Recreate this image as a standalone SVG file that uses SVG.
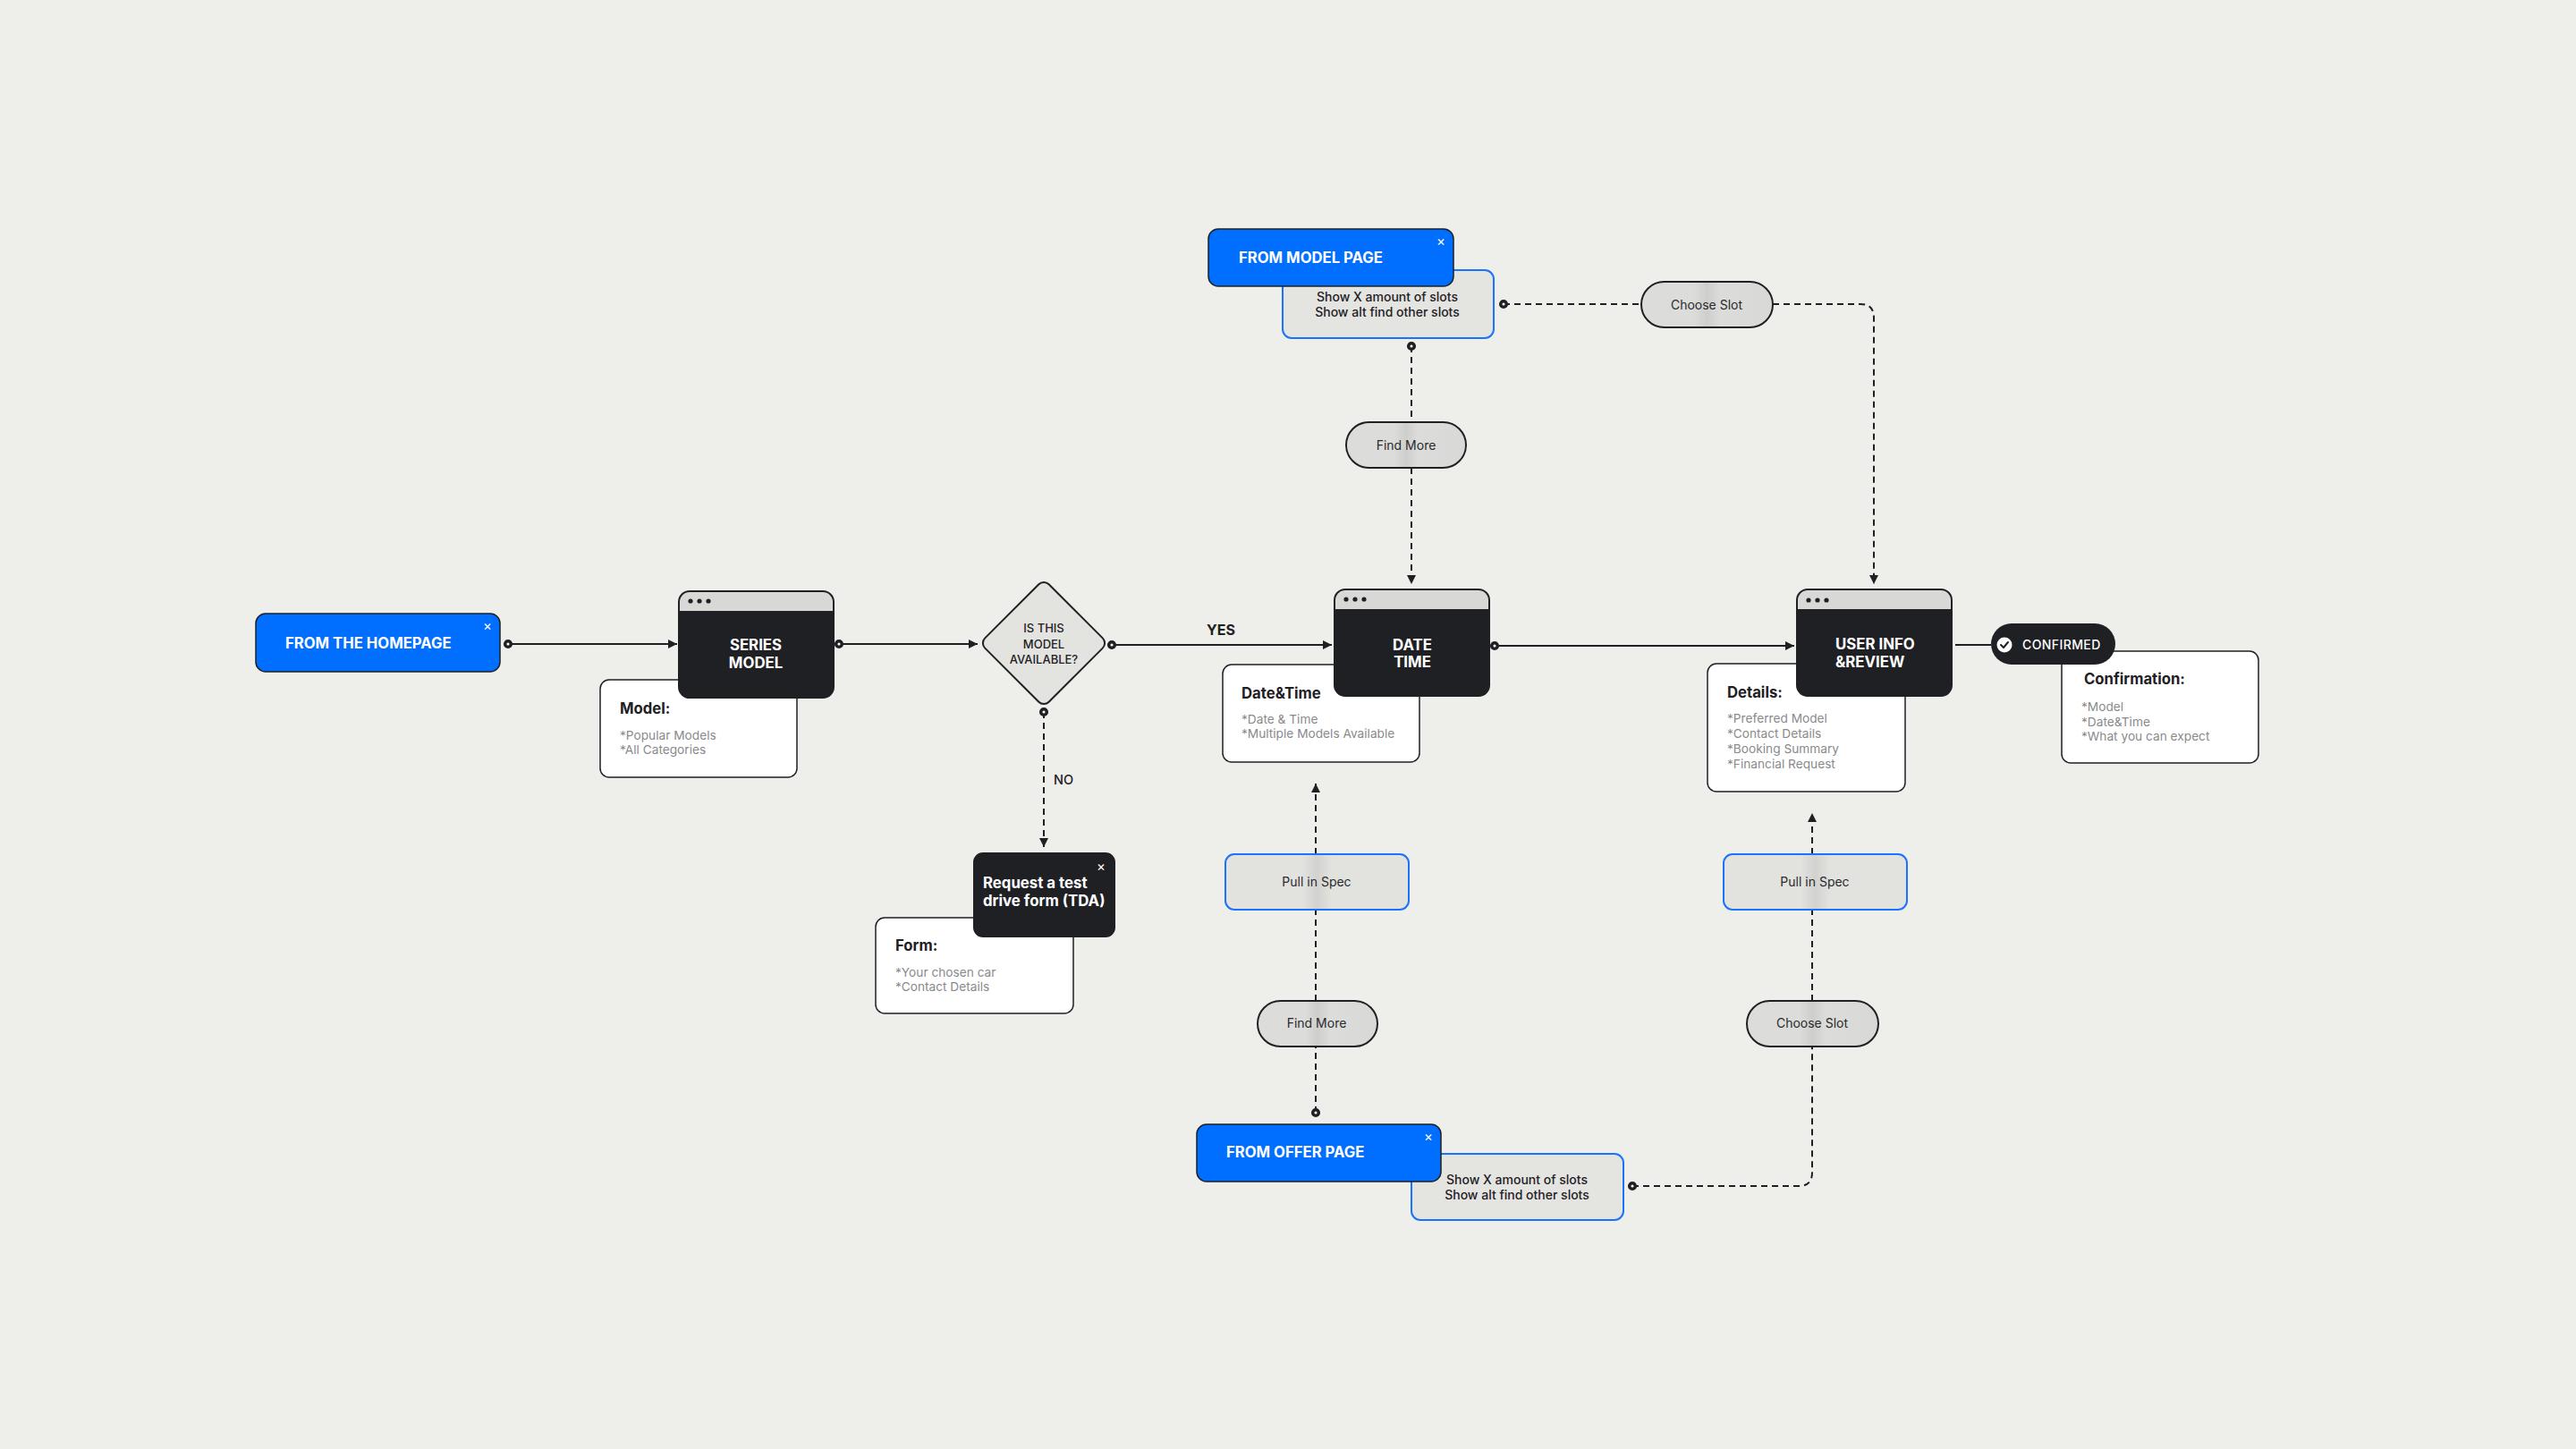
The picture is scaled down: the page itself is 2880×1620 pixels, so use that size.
<svg xmlns="http://www.w3.org/2000/svg" width="2880" height="1620" viewBox="0 0 2880 1620">
<defs>
<style>
text{font-family:Inter,"Liberation Sans",Arial,sans-serif;}
.bg{fill:#eeeeea;}
.blue{fill:#006eff;stroke:#1f2024;stroke-width:1.5;}
.wt{fill:#ffffff;font-weight:700;font-size:16.7px;}
.xx{fill:#ffffff;font-size:15px;text-anchor:middle;}
.dark{fill:#1f2024;stroke:#1f2024;stroke-width:2;}
.hdr{fill:#d8d8d6;}
.dot{fill:#1f2024;}
.nt{fill:#ffffff;font-weight:700;font-size:16.8px;}
.card{fill:#ffffff;stroke:#1f2024;stroke-width:1.5;}
.ch{fill:#1f2024;font-weight:700;font-size:16.7px;}
.ci{fill:#8a8a8c;font-size:13.7px;}
.slots{fill:#e4e4e1;stroke:#1a73ff;stroke-width:2;}
.st{fill:#1f2024;font-size:14px;font-weight:500;text-anchor:middle;}
.pill{fill:url(#sheen);stroke:#1f2024;stroke-width:2;}
.spec{fill:url(#sheen2);stroke:#1a73ff;stroke-width:2;}
.pt{fill:#2a2a2c;font-size:14px;text-anchor:middle;}
.ln{fill:none;stroke:#1f2024;stroke-width:2;}
.dash{stroke-dasharray:7 5;}
.lbl{fill:#1f2024;font-weight:700;font-size:16px;}
</style>
<linearGradient id="sheen" x1="0" y1="0" x2="1" y2="0">
<stop offset="0" stop-color="#dcdcda"/>
<stop offset="0.4" stop-color="#dcdcda"/>
<stop offset="0.5" stop-color="#cececd"/>
<stop offset="0.6" stop-color="#dcdcda"/>
<stop offset="1" stop-color="#d8d8d6"/>
</linearGradient>
<linearGradient id="sheen2" x1="0" y1="0" x2="1" y2="0">
<stop offset="0" stop-color="#e2e2df"/>
<stop offset="0.42" stop-color="#e2e2df"/>
<stop offset="0.5" stop-color="#d2d2d0"/>
<stop offset="0.58" stop-color="#e2e2df"/>
<stop offset="1" stop-color="#e2e2df"/>
</linearGradient>
<marker id="arr" markerUnits="userSpaceOnUse" markerWidth="12" markerHeight="12" refX="10" refY="5" orient="auto" viewBox="0 0 12 10">
<path d="M0,0 L10,5 L0,10 z" fill="#1f2024" stroke="none"/>
</marker>
<marker id="dt" markerUnits="userSpaceOnUse" markerWidth="14" markerHeight="14" refX="7" refY="7" orient="auto" viewBox="0 0 14 14">
<circle cx="7" cy="7" r="3.3" fill="#ffffff" stroke="#1f2024" stroke-width="3.5" stroke-dasharray="none"/>
</marker>
</defs>
<rect class="bg" x="0" y="0" width="2880" height="1620"/>

<g id="connectors">
<path class="ln" d="M568,720 H757" marker-start="url(#dt)" marker-end="url(#arr)"/>
<path class="ln" d="M938,720 H1093" marker-start="url(#dt)" marker-end="url(#arr)"/>
<path class="ln" d="M1243,721 H1489" marker-start="url(#dt)" marker-end="url(#arr)"/>
<path class="ln dash" d="M1167,796 V947" marker-start="url(#dt)" marker-end="url(#arr)"/>
<path class="ln" d="M1671,722 H2006" marker-start="url(#dt)" marker-end="url(#arr)"/>
<path class="ln" d="M2186,721 H2226"/>
<path class="ln dash" d="M1681,340 H1835" marker-start="url(#dt)"/>
<path class="ln dash" d="M1982,340 H2080 Q2095,340 2095,355 V653" marker-end="url(#arr)"/>
<path class="ln dash" d="M1578,387 V472" marker-start="url(#dt)"/>
<path class="ln dash" d="M1578,523 V653" marker-end="url(#arr)"/>
<path class="ln dash" d="M1471,1244 V1170" marker-start="url(#dt)"/>
<path class="ln dash" d="M1471,1119 V1017"/>
<path class="ln dash" d="M1471,955 V876" marker-end="url(#arr)"/>
<path class="ln dash" d="M1825,1326 H2011 Q2026,1326 2026,1311 V1170" marker-start="url(#dt)"/>
<path class="ln dash" d="M2026,1119 V1017"/>
<path class="ln dash" d="M2026,955 V909" marker-end="url(#arr)"/>
</g>

<g id="from-homepage">
<rect class="blue" x="286" y="686" width="273" height="65" rx="11"/>
<text class="wt" x="319" y="725">FROM THE HOMEPAGE</text>
<text class="xx" x="545" y="705">×</text>
</g>

<g id="model-card">
<rect class="card" x="671" y="760" width="220" height="109" rx="10"/>
<text class="ch" x="693" y="798">Model:</text>
<text class="ci" x="693" y="827">*Popular Models</text>
<text class="ci" x="693" y="843">*All Categories</text>
</g>

<g id="series-model">
<rect class="dark" x="759" y="661" width="173" height="119" rx="12"/>
<path class="hdr" d="M771,662 H920 A11,11 0 0 1 931,673 V683 H760 V673 A11,11 0 0 1 771,662 z"/>
<circle class="dot" cx="772" cy="672" r="2.6"/>
<circle class="dot" cx="782" cy="672" r="2.6"/>
<circle class="dot" cx="792" cy="672" r="2.6"/>
<text class="nt" x="845" y="727" text-anchor="middle">SERIES</text>
<text class="nt" x="845" y="747" text-anchor="middle">MODEL</text>
</g>

<g id="decision">
<rect x="1116.5" y="668.5" width="101" height="101" rx="8" transform="rotate(45 1167 719)" fill="#e3e3e0" stroke="#1f2024" stroke-width="2"/>
<text x="1167" y="707" fill="#1f2024" font-size="13" font-weight="500" text-anchor="middle">IS THIS</text>
<text x="1167" y="725" fill="#1f2024" font-size="13" font-weight="500" text-anchor="middle">MODEL</text>
<text x="1167" y="742" fill="#1f2024" font-size="13" font-weight="500" text-anchor="middle">AVAILABLE?</text>
</g>
<text class="lbl" x="1349" y="710">YES</text>
<text x="1178" y="877" fill="#1f2024" font-size="14.5" font-weight="500">NO</text>

<g id="form-card">
<rect class="card" x="979" y="1026" width="221" height="107" rx="10"/>
<text class="ch" x="1001" y="1063">Form:</text>
<text class="ci" x="1001" y="1092">*Your chosen car</text>
<text class="ci" x="1001" y="1108">*Contact Details</text>
</g>

<g id="tda">
<rect class="dark" x="1089" y="954" width="157" height="93" rx="10"/>
<text class="xx" x="1231" y="974">×</text>
<text class="nt" x="1099" y="993">Request a test</text>
<text class="nt" x="1099" y="1013">drive form (TDA)</text>
</g>

<g id="datetime-card">
<rect class="card" x="1367" y="743" width="220" height="109" rx="10"/>
<text class="ch" x="1388" y="781">Date&amp;Time</text>
<text class="ci" x="1388" y="809">*Date &amp; Time</text>
<text class="ci" x="1388" y="825">*Multiple Models Available</text>
</g>

<g id="date-time">
<rect class="dark" x="1492" y="659" width="173" height="119" rx="12"/>
<path class="hdr" d="M1504,660 H1653 A11,11 0 0 1 1664,671 V681 H1493 V671 A11,11 0 0 1 1504,660 z"/>
<circle class="dot" cx="1505" cy="670" r="2.6"/>
<circle class="dot" cx="1515" cy="670" r="2.6"/>
<circle class="dot" cx="1525" cy="670" r="2.6"/>
<text class="nt" x="1579" y="727" text-anchor="middle">DATE</text>
<text class="nt" x="1579" y="746" text-anchor="middle">TIME</text>
</g>

<g id="details-card">
<rect class="card" x="1909" y="742" width="221" height="143" rx="10"/>
<text class="ch" x="1931" y="780">Details:</text>
<text class="ci" x="1931" y="808">*Preferred Model</text>
<text class="ci" x="1931" y="825">*Contact Details</text>
<text class="ci" x="1931" y="842">*Booking Summary</text>
<text class="ci" x="1931" y="859">*Financial Request</text>
</g>

<g id="user-info">
<rect class="dark" x="2009" y="659" width="173" height="119" rx="12"/>
<path class="hdr" d="M2021,660 H2170 A11,11 0 0 1 2181,671 V681 H2010 V671 A11,11 0 0 1 2021,660 z"/>
<circle class="dot" cx="2022" cy="671" r="2.6"/>
<circle class="dot" cx="2032" cy="671" r="2.6"/>
<circle class="dot" cx="2042" cy="671" r="2.6"/>
<text class="nt" x="2052" y="726">USER INFO</text>
<text class="nt" x="2052" y="746">&amp;REVIEW</text>
</g>

<g id="confirmation-card">
<rect class="card" x="2305" y="728" width="220" height="125" rx="10"/>
<text class="ch" x="2330" y="765">Confirmation:</text>
<text class="ci" x="2327" y="795">*Model</text>
<text class="ci" x="2327" y="812">*Date&amp;Time</text>
<text class="ci" x="2327" y="828">*What you can expect</text>
</g>

<g id="confirmed">
<rect x="2226" y="697" width="139" height="46" rx="23" fill="#1f2024"/>
<circle cx="2241" cy="721" r="8.5" fill="#ffffff"/>
<path d="M2237,721 L2240,724 L2245,718" fill="none" stroke="#1f2024" stroke-width="2" stroke-linecap="round" stroke-linejoin="round"/>
<text x="2261" y="726" fill="#ffffff" font-size="14" font-weight="500" letter-spacing="0.4">CONFIRMED</text>
</g>

<g id="model-page-slots">
<rect class="slots" x="1434" y="302" width="236" height="76" rx="10"/>
<text class="st" x="1551" y="337">Show X amount of slots</text>
<text class="st" x="1551" y="354">Show alt find other slots</text>
</g>

<g id="from-model-page">
<rect class="blue" x="1351" y="256" width="274" height="64" rx="11"/>
<text class="wt" x="1385" y="294">FROM MODEL PAGE</text>
<text class="xx" x="1611" y="275">×</text>
</g>

<g id="choose-slot-top">
<rect class="pill" x="1835" y="315" width="147" height="51" rx="25.5"/>
<text class="pt" x="1908" y="346">Choose Slot</text>
</g>

<g id="find-more-top">
<rect class="pill" x="1505" y="472" width="134" height="51" rx="25.5"/>
<text class="pt" x="1572" y="503">Find More</text>
</g>

<g id="pull-spec-left">
<rect class="spec" x="1370" y="955" width="205" height="62" rx="10"/>
<text class="pt" x="1472" y="991">Pull in Spec</text>
</g>

<g id="find-more-bottom">
<rect class="pill" x="1406" y="1119" width="134" height="51" rx="25.5"/>
<text class="pt" x="1472" y="1149">Find More</text>
</g>

<g id="pull-spec-right">
<rect class="spec" x="1927" y="955" width="205" height="62" rx="10"/>
<text class="pt" x="2029" y="991">Pull in Spec</text>
</g>

<g id="choose-slot-bottom">
<rect class="pill" x="1953" y="1119" width="147" height="51" rx="25.5"/>
<text class="pt" x="2026" y="1149">Choose Slot</text>
</g>

<g id="offer-page-slots">
<rect class="slots" x="1578" y="1290" width="237" height="74" rx="10"/>
<text class="st" x="1696" y="1324">Show X amount of slots</text>
<text class="st" x="1696" y="1341">Show alt find other slots</text>
</g>

<g id="from-offer-page">
<rect class="blue" x="1338" y="1257" width="273" height="64" rx="11"/>
<text class="wt" x="1371" y="1294">FROM OFFER PAGE</text>
<text class="xx" x="1597" y="1276">×</text>
</g>
</svg>
